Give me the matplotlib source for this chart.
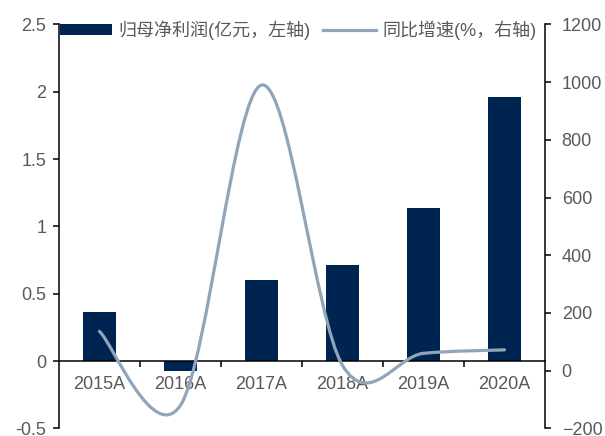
import matplotlib
matplotlib.use('Agg')
import matplotlib.pyplot as plt
import numpy as np
from matplotlib.path import Path
from matplotlib.patches import PathPatch, Patch
from matplotlib.lines import Line2D

years = ['2015A', '2016A', '2017A', '2018A', '2019A', '2020A']
profit = [0.364, -0.074, 0.60, 0.713, 1.14, 1.96]      # 归母净利润, 亿元
growth = [136, -120, 990, 18, 60, 72]                   # 同比增速, %

bar_color = '#002451'
line_color = '#8FA5B9'
grey = '#595959'

plt.rcParams['font.family'] = ['Liberation Sans', 'Noto Sans CJK SC', 'DejaVu Sans']

fig = plt.figure(figsize=(6.05, 4.36), dpi=100)
ax = fig.add_axes([59 / 605, 1 - 428.3 / 436, (545 - 59) / 605, (428.3 - 24.5) / 436])
ax2 = ax.twinx()

x = np.arange(len(years))
ax.bar(x, profit, width=0.4, color=bar_color, zorder=2)
ax.set_xlim(-0.5, len(years) - 0.5)
ax.set_ylim(-0.5, 2.5)
ax.set_yticks(np.arange(-0.5, 2.51, 0.5))
ax.set_yticklabels(['-0.5', '0', '0.5', '1', '1.5', '2', '2.5'])

# smoothed line: cubic bezier through the points (Catmull-Rom style control points)
pts = np.column_stack([x, growth]).astype(float)
ext = np.vstack([pts[0], pts, pts[-1]])
verts = [tuple(pts[0])]
codes = [Path.MOVETO]
for i in range(len(pts) - 1):
    p0, p1, p2, p3 = ext[i], ext[i + 1], ext[i + 2], ext[i + 3]
    c1 = p1 + (p2 - p0) / 6
    c2 = p2 - (p3 - p1) / 6
    verts += [tuple(c1), tuple(c2), tuple(p2)]
    codes += [Path.CURVE4] * 3
ax2.add_patch(PathPatch(Path(verts, codes), facecolor='none', edgecolor=line_color,
                        lw=2.3, capstyle='round', joinstyle='round', zorder=3))
ax2.set_ylim(-200, 1200)
ax2.set_yticks(np.arange(-200, 1201, 200))

# axes styling
for a in (ax, ax2):
    a.spines['top'].set_visible(False)
    a.spines['left'].set_linewidth(1.1)
    a.spines['right'].set_linewidth(1.1)
ax.spines['right'].set_visible(False)
ax2.spines['left'].set_visible(False)
ax2.spines['bottom'].set_visible(False)
ax.spines['bottom'].set_position(('data', 0))
ax.spines['bottom'].set_linewidth(1.1)

ax.set_xticks(x)
ax.set_xticklabels(years)
ax.set_xticks(np.arange(0.5, len(years) - 0.5, 1), minor=True)
ax.tick_params(axis='x', which='major', length=0, pad=11, labelsize=13, labelcolor=grey)
ax.tick_params(axis='x', which='minor', length=4, width=1.1, direction='out')
ax.tick_params(axis='y', length=4, width=1.1, pad=5, labelsize=13, labelcolor=grey)
ax2.tick_params(axis='y', length=4, width=1.1, pad=8, labelsize=13, labelcolor=grey)

handles = [Patch(facecolor=bar_color, edgecolor='none'),
           Line2D([], [], color=line_color, lw=2.3)]
labels = ['归母净利润(亿元，左轴)', '同比增速(%，右轴)']
ax2.legend(handles, labels, loc='center left', ncol=2, frameon=False,
           bbox_to_anchor=(60 / 605, 1 - 30 / 436), bbox_transform=fig.transFigure,
           borderpad=0, borderaxespad=0, handlelength=2.9, handleheight=0.55,
           handletextpad=0.35, columnspacing=0.7, labelcolor=grey,
           prop={'family': ['Liberation Sans', 'Noto Sans CJK SC'], 'size': 13})

fig.savefig('out.png', dpi=100)
